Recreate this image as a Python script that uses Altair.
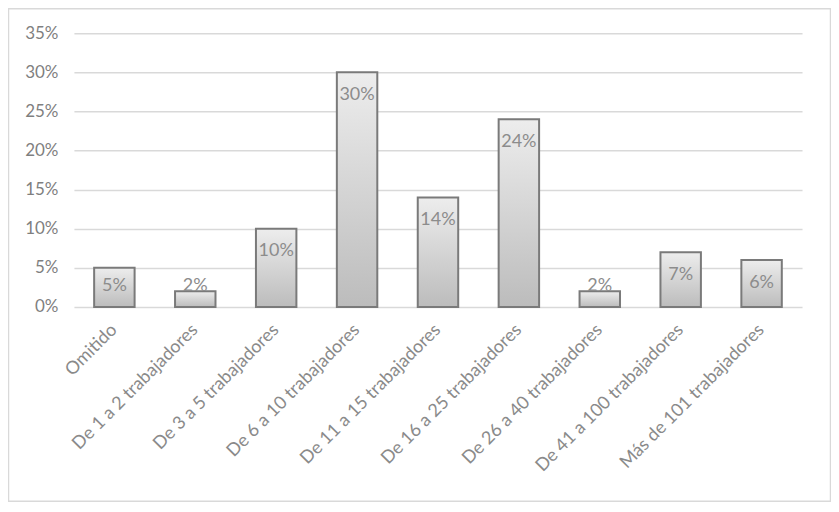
import altair as alt
import pandas as pd

categories = [
    "Omitido",
    "De 1 a 2 trabajadores",
    "De 3 a 5 trabajadores",
    "De 6 a 10 trabajadores",
    "De 11 a 15 trabajadores",
    "De 16 a 25 trabajadores",
    "De 26 a 40 trabajadores",
    "De 41 a 100 trabajadores",
    "Más de 101 trabajadores",
]
values = [0.05, 0.02, 0.10, 0.30, 0.14, 0.24, 0.02, 0.07, 0.06]
y_ticks = [0, 0.05, 0.10, 0.15, 0.20, 0.25, 0.30, 0.35]

df = pd.DataFrame({"cat": categories, "value": values})

FONT = "Lato"

xaxis = alt.Axis(
    labelAngle=-45,
    labelAlign="right",
    labelBaseline="middle",
    labelPadding=20,
    labelFontSize=18,
    labelColor="#8a8a8a",
    labelFont=FONT,
    domain=False,
    ticks=False,
    grid=False,
    labelLimit=400,
)
yaxis = alt.Axis(
    format=".0%",
    values=y_ticks,
    labelOverlap=False,
    labelFontSize=17,
    labelColor="#7f7f7f",
    labelFont=FONT,
    labelPadding=16,
    domain=False,
    ticks=False,
    gridColor="#d9d9d9",
    gridWidth=1.5,
)
xscale = alt.Scale(paddingInner=0.5, paddingOuter=0.25)
yscale = alt.Scale(domain=[0, 0.35], nice=False)

bars = alt.Chart(df).mark_bar(
    color=alt.Gradient(
        gradient="linear",
        stops=[
            alt.GradientStop(color="#ededed", offset=0),
            alt.GradientStop(color="#bcbcbc", offset=1),
        ],
        x1=0, x2=0, y1=0, y2=1,
    ),
    stroke="#7a7a7a",
    strokeWidth=2,
).encode(
    x=alt.X("cat:N", sort=categories, title=None, scale=xscale, axis=xaxis),
    y=alt.Y("value:Q", scale=yscale, title=None, axis=yaxis),
)

labels = alt.Chart(df).transform_calculate(
    ly="max(datum.value - 0.029, 0.027)"
).mark_text(
    fontSize=18,
    font=FONT,
    color="#8c8c8c",
    baseline="middle",
    align="center",
).encode(
    x=alt.X("cat:N", sort=categories, title=None, scale=xscale, axis=xaxis),
    y=alt.Y("ly:Q", scale=yscale, title=None, axis=yaxis),
    text=alt.Text("value:Q", format=".0%"),
)

frame = alt.Chart(pd.DataFrame({"a": [0]})).mark_rect(
    fill=None, stroke="#d9d9d9", strokeWidth=1.5
).encode(
    x=alt.value(-65.5),
    x2=alt.value(757.5),
    y=alt.value(-24.5),
    y2=alt.value(468.5),
)

chart = alt.layer(frame, bars, labels).properties(
    width=729,
    height=274,
    autosize=alt.AutoSizeParams(type="none"),
    padding={"left": 66, "top": 25, "right": 29, "bottom": 195},
    background="white",
).configure_view(stroke=None)

chart.save("out.html", embed_options={"renderer": "svg", "actions": False})
